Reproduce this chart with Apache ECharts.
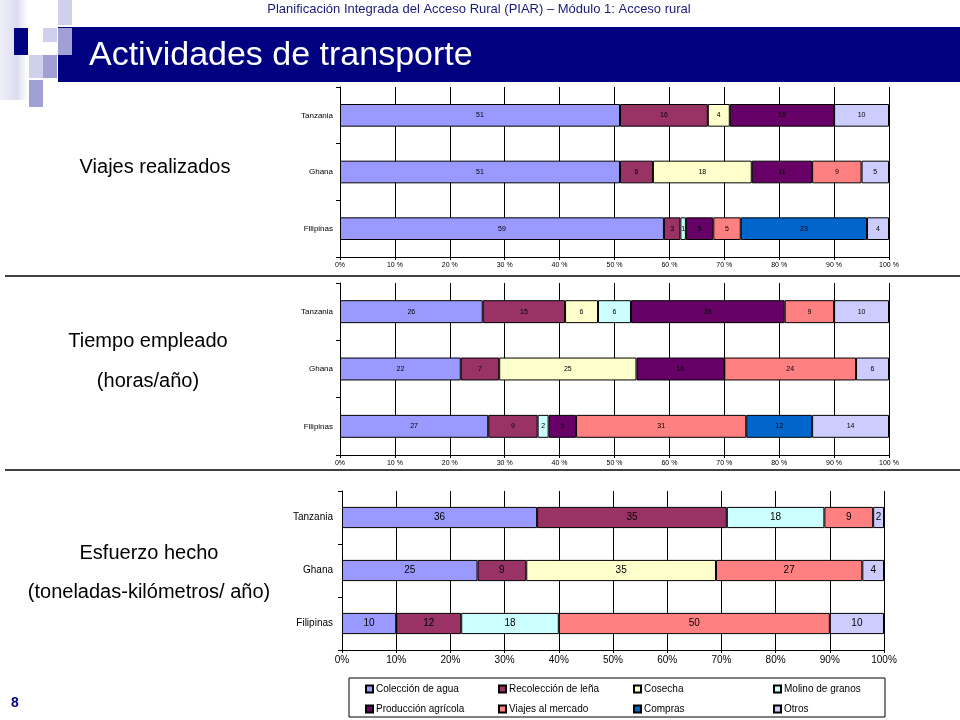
<!DOCTYPE html>
<html>
<head>
<meta charset="utf-8">
<script src="https://cdn.jsdelivr.net/npm/echarts@6/dist/echarts.min.js"></script>
<style>
html,body{margin:0;padding:0;background:#fff;}
#c{width:960px;height:720px;}
</style>
</head>
<body>
<div id="c"></div>
<script>
// ---- Data ----
const countries = ['Filipinas', 'Ghana', 'Tanzania'];
const activities = ['Colección de agua', 'Recolección de leña', 'Cosecha', 'Molino de granos',
                    'Producción agrícola', 'Viajes al mercado', 'Compras', 'Otros'];
const activityColors = ['#9999FF', '#993366', '#FFFFCC', '#CCFFFF', '#660066', '#FF8080', '#0066CC', '#CCCCFF'];
const pctTicks = [0, 10, 20, 30, 40, 50, 60, 70, 80, 90, 100];

// Viajes realizados (order follows activities)
const viajesFilipinas = [59, 3, null, 1, 5, 5, 23, 4];
const viajesGhana     = [51, 6, 18, null, 11, 9, null, 5];
const viajesTanzania  = [51, 16, 4, null, 19, null, null, 10];

// Tiempo empleado (horas/año)
const tiempoFilipinas = [27, 9, null, 2, 5, 31, 12, 14];
const tiempoGhana     = [22, 7, 25, null, 16, 24, null, 6];
const tiempoTanzania  = [26, 15, 6, 6, 28, 9, null, 10];

// Esfuerzo hecho (toneladas-kilómetros/año)
const esfuerzoFilipinas = [10, 12, null, 18, null, 50, null, 10];
const esfuerzoGhana     = [25, 9, 35, null, null, 27, null, 4];
const esfuerzoTanzania  = [36, 35, null, 18, null, 9, null, 2];

const panels = [
  [viajesFilipinas, viajesGhana, viajesTanzania],
  [tiempoFilipinas, tiempoGhana, tiempoTanzania],
  [esfuerzoFilipinas, esfuerzoGhana, esfuerzoTanzania]
];

const FONT = '"Liberation Sans", Arial, sans-serif';
const grids = [
  {left: 340, width: 549, top: 87, height: 170},
  {left: 340, width: 549, top: 283, height: 172},
  {left: 342, width: 542, top: 491, height: 159}
];
const xfs = [7, 7, 10];
const yfs = [8, 8, 10];
const lfs = [7, 7, 10];

const xAxes = grids.map((g, i) => ({
  type: 'value', gridIndex: i, min: 0, max: 100, interval: 10,
  axisLine: {show: true, lineStyle: {color: '#000', width: 1}},
  axisTick: {show: true, length: 3, lineStyle: {color: '#000'}},
  splitLine: {show: true, lineStyle: {color: '#000', width: 1}},
  axisLabel: {
    fontSize: xfs[i], color: '#000', fontFamily: FONT, margin: 5,
    formatter: v => (pctTicks.includes(v) ? (i < 2 && v !== 0 ? v + ' %' : v + '%') : '')
  }
}));
const yAxes = grids.map((g, i) => ({
  type: 'category', gridIndex: i, data: countries,
  axisLine: {show: true, lineStyle: {color: '#000', width: 1}},
  axisTick: {show: true, length: 4, lineStyle: {color: '#000'}},
  splitLine: {show: false},
  axisLabel: {fontSize: yfs[i], color: '#000', fontFamily: FONT, margin: i < 2 ? 7 : 9}
}));

const series = [];
panels.forEach((rows, p) => {
  activities.forEach((name, a) => {
    series.push({
      type: 'bar', name: name, stack: 'p' + p,
      xAxisIndex: p, yAxisIndex: p,
      barWidth: '40%',
      data: rows.map(r => r[a]),
      itemStyle: {color: activityColors[a], borderColor: '#000', borderWidth: 1},
      label: {show: true, position: 'inside', fontSize: lfs[p], color: '#000', fontFamily: FONT,
              formatter: q => (q.value == null ? '' : q.value)},
      emphasis: {disabled: true},
      animation: false
    });
  });
});

const legendCols = [365, 498, 633, 773];
const legendRows = [684, 704];
const legends = activities.map((name, k) => ({
  orient: 'horizontal', left: legendCols[k % 4], top: legendRows[Math.floor(k / 4)],
  padding: 0, itemGap: 0,
  itemWidth: 7, itemHeight: 7, icon: 'rect',
  textStyle: {fontSize: 10, color: '#000', fontFamily: FONT, padding: [0, 0, 0, -2]},
  data: [name]
}));

const option = {
  backgroundColor: '#fff',
  animation: false,
  grid: grids,
  xAxis: xAxes,
  yAxis: yAxes,
  series: series,
  legend: legends,
  graphic: [
    // header decorations
    {type: 'rect', shape: {x: 0, y: 0, width: 28, height: 100}, style: {fill: new echarts.graphic.LinearGradient(0, 0, 1, 0, [{offset: 0, color: '#f0f0fa'}, {offset: 0.6, color: '#dcdcf0'}, {offset: 1, color: '#ffffff'}])}},
    {type: 'rect', shape: {x: 58, y: 0, width: 14, height: 25}, style: {fill: '#d0d0ec'}},
    {type: 'rect', shape: {x: 58, y: 27, width: 902, height: 55}, style: {fill: '#000080'}},
    {type: 'rect', shape: {x: 14, y: 28, width: 14, height: 27}, style: {fill: '#000080'}},
    {type: 'rect', shape: {x: 43, y: 28, width: 14, height: 14}, style: {fill: '#d0d0ec'}},
    {type: 'rect', shape: {x: 58, y: 28, width: 14, height: 27}, style: {fill: '#a0a0d4'}},
    {type: 'rect', shape: {x: 29, y: 55, width: 14, height: 23}, style: {fill: '#d0d0ec'}},
    {type: 'rect', shape: {x: 43, y: 55, width: 14, height: 23}, style: {fill: '#a0a0d4'}},
    {type: 'rect', shape: {x: 29, y: 80, width: 14, height: 27}, style: {fill: '#a0a0d4'}},
    {type: 'text', style: {x: 479, y: 9, text: 'Planificación Integrada del Acceso Rural (PIAR) – Módulo 1: Acceso rural', fontSize: 13, fill: '#1a1a7a', fontFamily: FONT, align: 'center', verticalAlign: 'middle'}},
    {type: 'text', style: {x: 89, y: 56, text: 'Actividades de transporte', fontSize: 34, fill: '#fff', fontFamily: FONT, verticalAlign: 'middle'}},
    // section labels
    {type: 'text', style: {x: 155, y: 167, text: 'Viajes realizados', fontSize: 20, fill: '#000', fontFamily: FONT, align: 'center', verticalAlign: 'middle'}},
    {type: 'text', style: {x: 148, y: 341, text: 'Tiempo empleado', fontSize: 20, fill: '#000', fontFamily: FONT, align: 'center', verticalAlign: 'middle'}},
    {type: 'text', style: {x: 148, y: 381, text: '(horas/año)', fontSize: 20, fill: '#000', fontFamily: FONT, align: 'center', verticalAlign: 'middle'}},
    {type: 'text', style: {x: 149, y: 553, text: 'Esfuerzo hecho', fontSize: 20, fill: '#000', fontFamily: FONT, align: 'center', verticalAlign: 'middle'}},
    {type: 'text', style: {x: 149, y: 592, text: '(toneladas-kilómetros/ año)', fontSize: 20, fill: '#000', fontFamily: FONT, align: 'center', verticalAlign: 'middle'}},
    // separators
    {type: 'line', shape: {x1: 5, y1: 276, x2: 960, y2: 276}, style: {stroke: '#000', lineWidth: 1.5}},
    {type: 'line', shape: {x1: 5, y1: 470, x2: 960, y2: 470}, style: {stroke: '#000', lineWidth: 1.5}},
    // legend box
    {type: 'rect', shape: {x: 349, y: 678, width: 536, height: 39}, style: {fill: 'none', stroke: '#000', lineWidth: 1}},
    // slide number
    {type: 'text', style: {x: 15, y: 703, text: '8', fontSize: 14, fontWeight: 'bold', fill: '#000080', fontFamily: FONT, align: 'center', verticalAlign: 'middle'}}
  ]
};

const chart = echarts.init(document.getElementById('c'), null, {renderer: 'canvas'});
chart.setOption(option);
</script>
</body>
</html>
